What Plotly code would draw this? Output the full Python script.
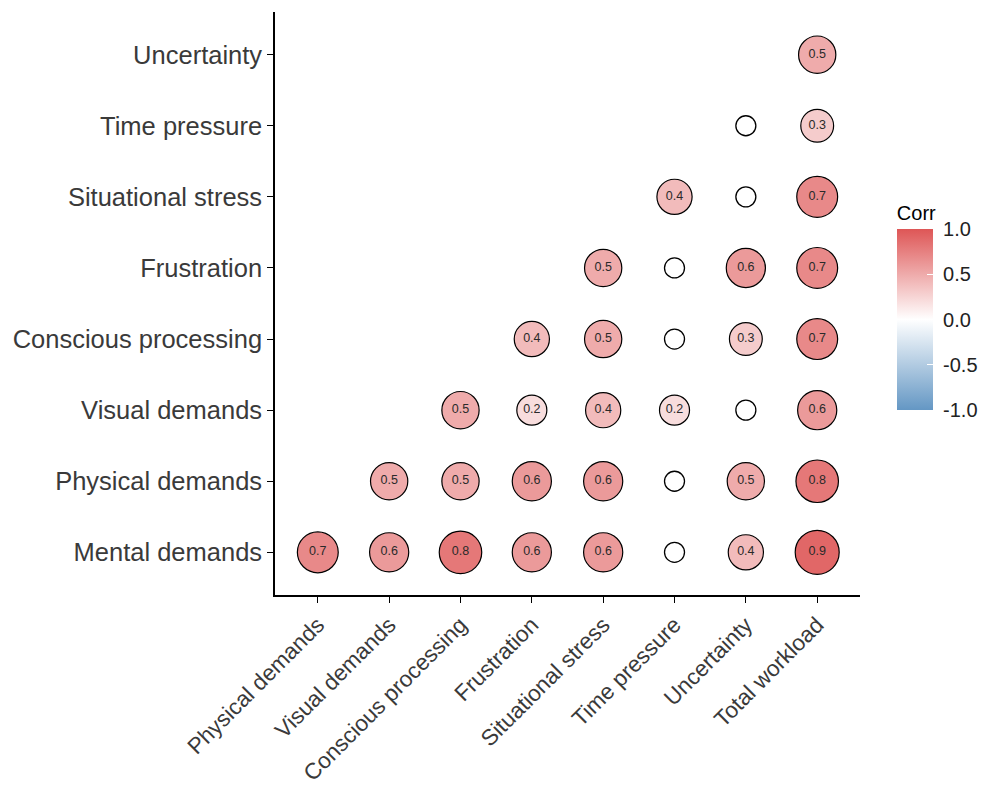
import math
import plotly.graph_objects as go

x_labels = ["Physical demands", "Visual demands", "Conscious processing", "Frustration",
            "Situational stress", "Time pressure", "Uncertainty", "Total workload"]
y_labels = ["Mental demands", "Physical demands", "Visual demands", "Conscious processing",
            "Frustration", "Situational stress", "Time pressure", "Uncertainty"]

# None = non-significant (empty circle); "" = not shown (upper triangle)
mental_demands       = [0.7, 0.6, 0.8, 0.6, 0.6, None, 0.4, 0.9]
physical_demands     = ["", 0.5, 0.5, 0.6, 0.6, None, 0.5, 0.8]
visual_demands       = ["", "", 0.5, 0.2, 0.4, 0.2, None, 0.6]
conscious_processing = ["", "", "", 0.4, 0.5, None, 0.3, 0.7]
frustration          = ["", "", "", "", 0.5, None, 0.6, 0.7]
situational_stress   = ["", "", "", "", "", 0.4, None, 0.7]
time_pressure        = ["", "", "", "", "", "", None, 0.3]
uncertainty          = ["", "", "", "", "", "", "", 0.5]

colorbar_ticks = [-1, -0.5, 0, 0.5, 1]
colorbar_ticktext = ["-1.0", "-0.5", "0.0", "0.5", "1.0"]

rows = [mental_demands, physical_demands, visual_demands, conscious_processing,
        frustration, situational_stress, time_pressure, uncertainty]

sx, sy, sv, ss, st = [], [], [], [], []
bx, by = [], []
for yi, row in enumerate(rows):
    for xi, v in enumerate(row):
        if v == "":
            continue
        if v is None:
            bx.append(x_labels[xi]); by.append(y_labels[yi])
        else:
            sx.append(x_labels[xi]); sy.append(y_labels[yi]); sv.append(v)
            ss.append(44 * (4 + 6 * math.sqrt(abs(v) / 0.9)) / 10)
            st.append(f"{v:.1f}")

colorscale = [[0.0, "#6497C4"], [0.5, "#FFFFFF"], [1.0, "#DE5656"]]
FONT = "Liberation Sans, Arial, sans-serif"

fig = go.Figure()
fig.add_trace(go.Scatter(
    x=bx, y=by, mode="markers",
    marker=dict(size=20, color="white", line=dict(color="black", width=1.3)),
    showlegend=False, hoverinfo="skip"))
fig.add_trace(go.Scatter(
    x=sx, y=sy, mode="markers+text", text=st, textposition="middle center",
    textfont=dict(family=FONT, size=12.5, color="#2a2a2a"),
    marker=dict(size=ss, color=sv, colorscale=colorscale, cmin=-1, cmax=1,
                line=dict(color="black", width=1.2), opacity=1,
                colorbar=dict(
                    title=dict(text="Corr", side="top",
                               font=dict(family=FONT, size=20, color="black")),
                    tickvals=colorbar_ticks,
                    ticktext=["\u00a0" + t for t in colorbar_ticktext],
                    tickfont=dict(family=FONT, size=20, color="#222222"),
                    ticks="inside", ticklen=6, tickcolor="white",
                    thickness=36, thicknessmode="pixels",
                    len=208, lenmode="pixels",
                    x=1.063, xanchor="left", xpad=0,
                    y=0.317, yanchor="bottom", ypad=0,
                    outlinewidth=0)),
    showlegend=False, hoverinfo="skip"))

fig.update_xaxes(
    categoryorder="array", categoryarray=x_labels, range=[-0.6, 7.6],
    showline=True, linecolor="black", linewidth=1.6, mirror=False,
    ticks="outside", ticklen=6, tickcolor="black", tickwidth=1.2,
    tickangle=-45, tickfont=dict(family=FONT, size=22.5, color="#3a3a3a"),
    showgrid=False, zeroline=False, automargin=False)
fig.update_yaxes(
    categoryorder="array", categoryarray=y_labels, range=[-0.6, 7.6],
    showline=True, linecolor="black", linewidth=1.6, mirror=False,
    ticks="outside", ticklen=6, tickcolor="black", tickwidth=1.2,
    tickfont=dict(family=FONT, size=25.5, color="#3a3a3a"),
    showgrid=False, zeroline=False, automargin=False)
fig.update_layout(
    width=988, height=795,
    margin=dict(l=267, r=136, t=4, b=208),
    plot_bgcolor="white", paper_bgcolor="white")

fig.write_html("out.html")
